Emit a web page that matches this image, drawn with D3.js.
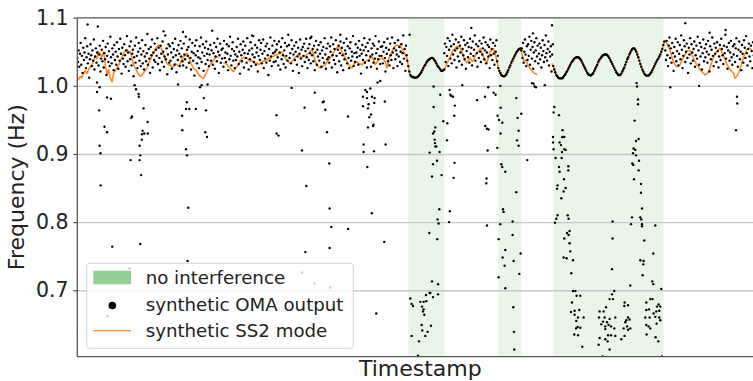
<!DOCTYPE html>
<html><head><meta charset="utf-8">
<script src="https://cdn.jsdelivr.net/npm/d3@7"></script>
<style>body{margin:0;background:#fff}svg{display:block;font-family:"DejaVu Sans",sans-serif}</style>
</head><body><svg id="c" width="753" height="381"></svg>
<script>
// ---------------- DATA ----------------
const yTicks = [0.7, 0.8, 0.9, 1.0, 1.1];
const yTickLabels = ["0.7", "0.8", "0.9", "1.0", "1.1"];
const spans = [[331, 367], [421, 444], [476, 586]]; // "no interference" timestamp ranges
const legendLabels = ["no interference", "synthetic OMA output", "synthetic SS2 mode"];

// synthetic SS2 mode (timestamp, Hz) outside shaded ranges
const modeA = [[0,1.012],[1.3,1.009],[3,1.014],[4.5,1.012],[6.3,1.019],[8,1.022],[9.5,1.018],[11.3,1.024],[13,1.028],[14.7,1.031],[16,1.036],[18,1.043],[19.5,1.040],[21.3,1.050],[23,1.046],[24.7,1.043],[26.3,1.050],[28,1.031],[29.7,1.016],[31.3,1.024],[33,1.011],[34.7,1.006],[36.3,1.019],[38,1.022],[39.7,1.026],[41.5,1.031],[43,1.036],[44.5,1.042],[46.3,1.048],[48,1.051],[49.7,1.053],[51.5,1.049],[53,1.050],[54.5,1.042],[56.3,1.031],[58,1.026],[59.7,1.021],[61.3,1.017],[63,1.014],[64.7,1.016],[66.3,1.019],[68,1.023],[69.7,1.026],[71.3,1.033],[73,1.038],[74.7,1.044],[76.3,1.048],[78,1.054],[79.7,1.058],[81.3,1.060],[83,1.058],[84.7,1.052],[86.3,1.046],[88,1.038],[89.7,1.033],[91.3,1.030],[93,1.031],[94.7,1.027],[96.3,1.028],[98,1.033],[99.7,1.031],[101.3,1.029],[103,1.033],[104.7,1.039],[106.3,1.043],[108,1.045],[109.7,1.048],[111.3,1.042],[113,1.036],[114.7,1.030],[116.3,1.026],[118,1.024],[119.7,1.021],[121.3,1.017],[123,1.014],[124.7,1.012],[126.3,1.011],[128,1.016],[129.7,1.021],[131.3,1.027],[133,1.031],[134.7,1.035],[136.3,1.038],[138,1.041],[139.7,1.043],[141,1.041]];
const modeB = [[146.3,1.033],[148,1.034],[149.7,1.031],[151.3,1.028],[153,1.026],[154.7,1.023],[156.3,1.021],[158,1.025],[159.7,1.028],[161.3,1.032],[163,1.037],[164.7,1.040],[166.3,1.042],[168,1.040],[169.7,1.041],[171.3,1.038],[173,1.036],[174.7,1.037],[176.3,1.035],[178,1.033],[179.7,1.034],[181.3,1.031],[183,1.033],[184.7,1.035],[186.3,1.037],[188,1.036],[189.7,1.038],[191.3,1.041],[193,1.040],[194.7,1.043],[196.3,1.043],[198,1.046],[199.7,1.045],[201.3,1.048],[203,1.047],[204.7,1.050],[206.3,1.045],[208,1.041],[209.7,1.037],[211.3,1.035],[213,1.033],[214.7,1.036],[216.3,1.038],[218,1.042],[219.7,1.044],[221.3,1.046],[223,1.043],[224.7,1.041],[226.3,1.044],[228,1.043],[229.7,1.046],[231.3,1.048],[233,1.051],[234.7,1.053],[236.3,1.046],[238,1.036],[239.7,1.031],[241.3,1.028],[243,1.026],[244.7,1.028],[246.3,1.030],[248,1.031],[249.7,1.035],[251.3,1.038],[253,1.041],[254.7,1.045],[256.3,1.049],[258,1.053],[259.7,1.056],[261.3,1.058],[263,1.055],[264.7,1.050],[266.3,1.046],[268,1.041],[269.7,1.036],[271.3,1.031],[273,1.028],[274.7,1.026],[276.3,1.031],[278,1.036],[279.7,1.035],[281.3,1.033],[283,1.032],[284.7,1.031],[286.3,1.034],[288,1.036],[289.7,1.037],[291.3,1.038],[293,1.041],[294.7,1.043],[296.3,1.037],[298,1.031],[299.7,1.035],[301.3,1.038],[303,1.040],[304.7,1.041],[306.3,1.038],[308,1.036],[309.7,1.026],[311.3,1.038],[313,1.046],[314.7,1.051],[316.3,1.055],[318,1.058],[319.7,1.060],[321.3,1.059],[323,1.058],[324.7,1.055],[326.3,1.050],[328,1.046],[329.7,1.041]];
const modeC = [[368.3,1.028],[369.7,1.033],[371.3,1.038],[373,1.043],[374.7,1.049],[376.3,1.053],[378,1.056],[379.7,1.058],[381.3,1.057],[383,1.056],[384.7,1.049],[386.3,1.043],[388,1.037],[389.7,1.034],[391.3,1.038],[393,1.041],[394.7,1.036],[396.3,1.038],[398,1.044],[399.7,1.048],[401.3,1.052],[403,1.055],[404.7,1.049],[406.3,1.043],[408,1.037],[409.7,1.034],[411.3,1.043],[413,1.050],[414.7,1.053],[416.3,1.055],[418,1.046],[419.7,1.036]];
const modeD = [[445,1.045],[446.3,1.037],[448,1.038],[449.7,1.034],[451.3,1.029],[453,1.025],[454.7,1.022],[456.3,1.019],[458,1.018],[459.7,1.016]];
const modeE0 = [[474.7,1.033]];
const modeE = [[588,1.066],[589.3,1.063],[591,1.058],[592.7,1.052],[594.3,1.044],[596,1.036],[597.7,1.031],[599.3,1.028],[601,1.029],[602.7,1.031],[604.3,1.036],[606,1.041],[607.7,1.046],[609.3,1.050],[611,1.052],[612.7,1.052],[614.3,1.047],[616,1.041],[617.7,1.036],[619.3,1.031],[621,1.028],[622.7,1.024],[624.3,1.021],[626,1.019],[627.7,1.016],[629.3,1.017],[631,1.021],[632.7,1.026],[634.3,1.034],[636,1.041],[637.7,1.046],[639.3,1.050],[641,1.053],[642.7,1.055],[644.3,1.050],[646,1.045],[647.7,1.039],[649.3,1.033],[651,1.028],[652.7,1.024],[654.3,1.021],[656,1.019],[657.7,1.011],[659.3,1.014],[661,1.018],[662.7,1.024],[664.3,1.033],[666,1.041],[667.7,1.047],[669.3,1.053],[671,1.055],[672.7,1.055],[674.3,1.052],[676,1.050],[680,1.045]];

// inside shaded ranges the OMA output lies on the mode: one value per timestamp (Hz)
const span1Start = 331;
const span1F = [1.029,1.021,1.016,1.014,1.013,1.013,1.012,1.012,1.012,1.013,1.014,1.016,1.018,1.020,1.023,1.026,1.029,1.031,1.034,1.036,1.038,1.039,1.040,1.041,1.041,1.040,1.038,1.036,1.033,1.030,1.028,1.026,1.024,1.022,1.022,1.023,1.024];
const span2Start = 421;
const span2F = [1.026,1.022,1.019,1.016,1.015,1.014,1.014,1.015,1.017,1.020,1.023,1.027,1.030,1.034,1.037,1.040,1.043,1.046,1.049,1.051,1.053,1.054,1.055,1.052];
const span3Start = 476;
const span3F = [1.029,1.024,1.020,1.016,1.014,1.012,1.011,1.011,1.011,1.011,1.013,1.015,1.017,1.020,1.022,1.025,1.028,1.031,1.034,1.036,1.038,1.040,1.041,1.042,1.042,1.042,1.041,1.039,1.037,1.034,1.031,1.028,1.025,1.022,1.019,1.017,1.016,1.015,1.016,1.017,1.019,1.022,1.025,1.028,1.031,1.035,1.038,1.040,1.042,1.044,1.045,1.046,1.046,1.046,1.045,1.043,1.041,1.038,1.035,1.032,1.029,1.026,1.023,1.020,1.018,1.016,1.016,1.016,1.018,1.021,1.024,1.027,1.031,1.035,1.039,1.042,1.046,1.049,1.052,1.054,1.055,1.055,1.053,1.050,1.046,1.042,1.037,1.032,1.028,1.024,1.021,1.018,1.016,1.015,1.015,1.015,1.016,1.018,1.020,1.023,1.026,1.029,1.032,1.035,1.038,1.040,1.043,1.046,1.050,1.054,1.060,1.065];

// OMA output band outside shaded ranges (mHz), evenly spaced timestamps between start and end
const bandA = {start: 0, end: 330, mhz: [
1041,1035,1052,1028,1047,1063,1031,1044,1019,1056,1038,1049,1070,1026,1042,1058,1033,1047,1012,1039,
1061,1045,1029,1052,1037,1068,1024,1043,1055,1034,1049,1087,1030,1046,1059,1021,1040,1053,1036,1066,
1027,1048,1039,1057,1016,1044,1062,1035,1051,1029,1072,1042,1033,1055,1046,1023,1060,1038,1050,1031,
1064,1043,1025,1054,1037,1069,1047,1018,1056,1040,1032,1061,1045,1028,1052,1073,1036,1049,1022,1058,
1039,1065,1030,1047,1053,1014,1042,1059,1034,1071,1044,1026,1050,1063,1037,1055,1029,1046,1067,1033,
1051,1024,1043,1060,1036,1048,1076,1031,1054,1040,1019,1057,1045,1068,1027,1049,1038,1062,1035,1053,
1044,1070,1032,1056,1041,1023,1059,1047,1035,1065,1050,1028,1043,1074,1039,1055,1017,1046,1061,1034,
1058,1037,1049,1025,1063,1042,1054,1031,1069,1045,1020,1052,1038,1060,1047,1029,1066,1043,1055,1036,
1030,1062,1046,1039,1072,1027,1053,1044,1057,1034,1068,1041,1024,1050,1063,1037,1048,1015,1059,1045,
1067,1033,1051,1042,1026,1058,1040,1071,1035,1049,1061,1022,1044,1056,1032,1065,1047,1038,1054,1029,
1046,1060,1037,1052,1081,1031,1048,1063,1025,1043,1057,1036,1069,1050,1019,1045,1062,1034,1053,1040,
1055,1028,1066,1041,1049,1035,1061,1047,1023,1058,1039,1072,1044,1030,1054,1064,1037,1051,1026,1046,
1038,1057,1043,1069,1032,1050,1018,1061,1045,1036,1053,1065,1027,1048,1059,1041,1034,1070,1047,1024,
1052,1039,1064,1029,1055,1046,1073,1035,1042,1060,1031,1049,1056,1021,1044,1067,1038,1053,1063,1033,
1047,1068,1026,1051,1040,1058,1034,1062,1045,1016,1054,1037,1071,1043,1029,1059,1048,1035,1066,1050,
1036,1053,1061,1042,1030,1065,1049,1024,1057,1039,1070,1045,1032,1052,1063,1027,1044,1058,1037,1075,
1060,1041,1048,1033,1067,1054,1022,1046,1059,1038,1050,1064,1031,1043,1056,1019,1047,1068,1040,1053,
1029,1057,1044,1062,1035,1051,1069,1042,1026,1055,1038,1061,1048,1033,1072,1045,1054,1036,1059,1023,
1049,1066,1031,1053,1043,1060,1037,1047,1064,1028,1052,1041,1057,1034,1070,1046,1025,1055,1039,1062,
1042,1034,1058,1050,1071,1027,1045,1061,1038,1054,1032,1067,1044,1020,1053,1059,1036,1048,1065,1030,
1056,1045,1023,1063,1039,1052,1047,1069,1033,1058,1041,1026,1055,1064,1037,1050,1043,1073,1029,1048,
1035,1061,1049,1042,1056,1031,1066,1044,1053,1018,1047,1060,1038,1052,1070,1034,1057,1045,1027,1063,
1051,1037,1068,1043,1028,1055,1046,1062,1034,1059,1040,1073,1048,1025,1054,1039,1065,1044,1032,1057,
1044,1058,1033,1050,1064,1041,1021,1056,1047,1069,1036,1053,1030,1062,1045,1038,1071,1049,1026,1055,
1063,1039,1052,1046,1029,1067,1043,1057,1035,1050,1061,1032,1048,1074,1040,1054,1022,1059,1045,1037]};
const bandB = {start: 367, end: 420.5, mhz: [
1048,1062,1035,1057,1044,1070,1029,1053,1066,1040,1058,1033,1075,1046,1061,1038,1052,1068,1027,1055,
1043,1064,1036,1059,1049,1072,1031,1054,1045,1067,1039,1060,1025,1051,1063,1042,1057,1034,1069,1047,
1056,1030,1065,1044,1053,1074,1037,1061,1048,1028,1058,1041,1066,1050,1035,1062,1046,1055,1071,1039,
1052,1064,1033,1049,1060,1043,1057,1026,1068,1045,1054,1038,1063,1047,1031,1059,1050,1067,1036,1044]};
const bandC = {start: 444.5, end: 475.5, mhz: [
1055,1041,1063,1034,1050,1068,1046,1029,1058,1038,1061,1044,1072,1031,1053,1066,1040,1057,1025,1049,
1064,1036,1052,1070,1043,1059,1033,1047,1062,1039,1056,1027,1045,1067,1051,1035,1060,1042,1074,1048,
1037,1054,1065,1030,1050,1043,1058,1021,1046,1061]};
const bandD = {start: 588, end: 684, mhz: [
1052,1038,1066,1045,1029,1059,1071,1041,1055,1034,1063,1048,1022,1057,1043,1069,1036,1051,1064,1030,
1047,1060,1039,1074,1053,1026,1044,1067,1058,1035,1050,1062,1041,1019,1056,1046,1070,1033,1061,1049,
1037,1054,1065,1028,1045,1059,1040,1072,1052,1031,1063,1043,1057,1024,1048,1068,1036,1055,1042,1061,
1050,1034,1066,1046,1021,1058,1039,1053,1071,1044,1029,1062,1047,1056,1035,1064,1051,1027,1043,1060,
1038,1069,1054,1045,1032,1059,1048,1075,1040,1057,1025,1052,1063,1037,1049,1066,1042,1031,1058,1046,
1061,1035,1055,1070,1044,1028,1053,1065,1039,1050,1023,1060,1047,1034,1067,1056,1041,1073,1048,1030,
1054,1062,1043,1036,1059,1051,1026,1064,1045,1038,1057,1069,1033,1049,1060,1042,1053,1040,1066,1031]};

// OMA outputs away from the mode (timestamp, Hz)
const omaOutliers = [
[19.7,1.005],[22.3,0.998],[19.7,0.991],[29.7,0.983],[33.7,0.981],[21.8,0.964],[27.2,0.940],[29.8,0.932],[22.3,0.912],[23.2,0.901],[23.3,0.854],[35,0.764],[30.3,0.662],
[57.3,1.001],[58.7,0.995],[61.3,0.988],[61.5,0.984],[66.2,0.967],[54.7,0.955],[54,0.953],[70.3,0.947],[65.3,0.934],[67,0.930],[64.7,0.929],[70.5,0.930],[64.5,0.921],[62.3,0.912],[63,0.898],[53.3,0.891],[62.3,0.891],[63.8,0.869],[63,0.768],[52.3,0.732],
[100.7,1.002],[109.5,0.976],[108.7,0.966],[112,0.966],[118.5,0.966],[104.8,0.956],[105,0.935],[108.7,0.907],[109.7,0.898],[111,0.821],[110.3,0.743],
[122.7,0.998],[124.3,1.001],[130.3,1.002],[126.5,0.982],[128.7,0.964],[128,0.932],[129.7,0.925],
[199.2,0.957],[199.3,0.930],[201.2,0.927],[214.3,0.997],[227.3,0.968],[224.7,0.905],[229,0.853],[228,0.756],[224.7,0.726],
[237.5,0.990],[245.5,0.976],[246.5,0.977],[248,0.965],[249.7,0.932],[237.3,0.710],[252,0.886],[252.3,0.820],[254,0.793],[252.3,0.762],[253,0.704],
[270.7,0.955],[270.8,0.790],
[285.7,0.970],[288,0.994],[289.7,0.991],[293,0.996],[294.7,0.984],[289.7,0.982],[297.3,0.982],[291.3,0.973],[297,0.975],[290.7,0.967],[293.7,0.958],[292,0.954],[296.3,0.943],[290.7,0.939],[286.3,0.914],[286.3,0.903],[296.7,0.904],[308.3,0.914],[307.5,0.977],[290,0.881],[294.5,0.813],[307,0.771],[299,0.666],[300.3,1.005],[303,1.007],[285.7,0.984],[295.7,0.941],
[356.3,0.999],[363,0.987],[356.3,0.969],[358,0.939],[357,0.933],[357.7,0.916],[358,0.911],[359,0.911],[352.3,0.902],[362.3,0.903],[359.7,0.890],[355.7,0.885],[354.7,0.867],[364.3,0.869],[362,0.819],[360.3,0.804],[361.3,0.798],[352,0.784],[360,0.775],[354.7,0.713],[360.7,0.709],[353,0.696],[348.7,0.693],[352.3,0.696],[333,0.688],[343,0.683],[346.3,0.683],[349,0.684],[334.3,0.680],[335.7,0.677],[344.7,0.676],[346.3,0.672],[345.7,0.669],[347,0.664],[344.3,0.649],[353.7,0.648],[345,0.641],[350.3,0.639],[348,0.633],[334.3,0.633],[341.7,0.625],[340.7,0.604],[355.7,0.690],[360.7,0.694],[355.7,0.930],[357.3,0.921],
[372.3,0.994],[374,0.985],[373,0.987],[375.7,0.984],[377.5,0.971],[377,0.956],[366,0.948],[370,0.945],[369.7,0.920],[377.2,0.887],[376.3,0.865],[372.5,0.816],[371.8,0.800],[385,1.001],[399.8,0.979],[407.7,0.984],[411,0.998],[416.3,0.990],[418.3,0.987],[408,0.941],[409.7,0.937],[411.2,0.936],[410.3,0.905],[409.2,0.864],[409,0.857],[409.7,0.795],[420,0.909],
[423,1.000],[423.3,0.968],[420.3,0.956],[421.7,0.950],[425,0.946],[423.3,0.930],[439,0.982],[444,0.959],[440.3,0.953],[441.3,0.934],[439.7,0.920],[441.3,0.912],[424,0.885],[425,0.881],[428,0.874],[439,0.844],[425.7,0.819],[426.3,0.815],[435.3,0.801],[423,0.797],[435.3,0.781],[421.3,0.775],[428,0.759],[443.3,0.754],[425.3,0.748],[436.3,0.743],[427.3,0.736],[442,0.724],[421.3,0.719],[428,0.703],[436,0.675],[436.7,0.639],[437,0.613],
[450,0.891],[456.3,1.003],[458.7,0.998],[467.5,1.001],[454.7,1.004],[457.3,0.999],
[477,0.969],[476.3,0.961],[481.7,0.957],[485.3,0.935],[475.7,0.925],[485,0.925],[487,0.925],[475.7,0.917],[482.3,0.917],[483.7,0.913],[476.3,0.907],[487,0.907],[488.3,0.906],[484.7,0.903],[478.3,0.894],[484.3,0.894],[481.7,0.881],[491,0.882],[491,0.876],[482.3,0.874],[486.7,0.863],[480.3,0.854],[488.3,0.850],[479.7,0.849],[486.3,0.845],[484,0.835],[480.3,0.810],[490.3,0.810],[479,0.805],[491.3,0.805],[477.7,0.799],[492.3,0.787],[489.7,0.784],[491.3,0.781],[487,0.776],[492.3,0.769],[493,0.757],[486.3,0.748],[489.3,0.747],[495.7,0.744],[494,0.725],[495.7,0.699],[498,0.699],[499.3,0.692],[503,0.692],[494.7,0.682],[493.7,0.668],[497.3,0.670],[502,0.671],[497.3,0.664],[500.7,0.660],[506.3,0.660],[499,0.655],[500.3,0.646],[498.7,0.644],[503,0.645],[497,0.635],[500.7,0.634],[505,0.617],
[535.3,0.801],[535.3,0.776],[534.7,0.731],[537,0.699],[534.7,0.694],[532.3,0.687],[535.7,0.687],[528.7,0.675],[522.3,0.669],[526.3,0.669],[521.7,0.660],[527.3,0.660],[532.3,0.658],[538,0.660],[525.7,0.654],[529.7,0.653],[524,0.650],[531.3,0.649],[528,0.647],[533.7,0.647],[537,0.644],[528,0.643],[530.7,0.634],[533.7,0.634],[522.3,0.630],[528,0.628],[538,0.633],[530.3,0.625],[521.3,0.620],[532.3,0.613],[525.3,0.603],[547.3,0.682],[550.7,0.678],[547,0.677],[550.7,0.660],[549,0.656],[552.3,0.657],[548,0.653],[549.7,0.647],[553,0.644],[546.3,0.644],[550.7,0.642],[547.3,0.633],[544,0.628],[553,0.707],
[559.3,1.004],[559.7,0.999],[560.7,0.980],[560.7,0.973],[557.3,0.949],[558.7,0.919],[561.3,0.922],[556.3,0.908],[558,0.906],[555.7,0.901],[558.7,0.898],[561.7,0.890],[555,0.886],[556,0.884],[561.3,0.876],[556.7,0.863],[563.7,0.856],[563.7,0.843],[564.7,0.820],[554.7,0.807],[563,0.807],[564,0.804],[564.7,0.797],[553.7,0.797],[564.7,0.794],[578,0.795],[567,0.773],[576,0.754],[563,0.744],[566.3,0.743],[566,0.738],[565.3,0.722],[575,0.713],[576,0.709],[584,0.702],[569,0.682],[573,0.687],[575.3,0.687],[581.3,0.679],[579.7,0.676],[583,0.676],[569,0.671],[571.7,0.672],[579,0.669],[582,0.670],[576.3,0.666],[568,0.660],[572.3,0.660],[582,0.660],[578,0.661],[583,0.656],[579.3,0.651],[569,0.649],[571.3,0.647],[573,0.644],[569.3,0.635],[578.3,0.631],[581,0.625],[584.7,0.603],
[593,0.998],[621.8,1.000],[659.7,0.984],[660,0.974],[658.7,0.935],
[10.3,1.090],[86.3,1.080],[105.7,1.079],[174.7,1.074],[233,1.070],[263,1.075],[332.3,1.075],[394,1.085],[455.7,1.077],[474.7,1.089],[608,1.092],[632.3,1.078],[648.3,1.082]
];

// ---------------- CHART ----------------
const svg = d3.select("#c");
const x = d3.scaleLinear().domain([0, 686]).range([77.3, 763.3]);
const y = d3.scaleLinear().domain([0.6025, 1.1]).range([356.7, 17.7]);
const [x0, x1] = x.range(), [yb, yt] = y.range();

svg.append("defs").append("clipPath").attr("id", "clip")
  .append("rect").attr("x", x0).attr("y", yt).attr("width", x1 - x0).attr("height", yb - yt);

// shaded ranges
svg.append("g").selectAll("rect").data(spans).join("rect")
  .attr("x", d => x(d[0])).attr("width", d => x(d[1]) - x(d[0]))
  .attr("y", yt).attr("height", yb - yt)
  .attr("fill", "#2ca02c").attr("fill-opacity", 0.11);

// grid
const grid = svg.append("g").attr("transform", `translate(${x0},0)`)
  .call(d3.axisLeft(y).tickValues(yTicks).tickSize(-(x1 - x0)).tickFormat(""));
grid.select(".domain").remove();
grid.selectAll("line").attr("stroke", "#c8c8c8").attr("stroke-width", 1.3);

const plot = svg.append("g").attr("clip-path", "url(#clip)");

// mode line (under the scatter)
const s1 = span1F.map((v, i) => [span1Start + i, v]);
const s2 = span2F.map((v, i) => [span2Start + i, v]);
const s3 = span3F.map((v, i) => [span3Start + i, v]);
const segments = [modeA, [...modeB, ...s1, ...modeC, ...s2, ...modeD], [...modeE0, ...s3, ...modeE]];
const line = d3.line().x(d => x(d[0])).y(d => y(d[1]));
plot.append("g").selectAll("path").data(segments).join("path")
  .attr("d", line).attr("fill", "none").attr("stroke", "#ff7f0e")
  .attr("stroke-width", 1.5).attr("stroke-opacity", 0.95).attr("stroke-linejoin", "round");

// scatter points
const pts = [];
const bandPts = b => b.mhz.forEach((v, i) => pts.push([b.start + i * (b.end - b.start) / (b.mhz.length - 1), v / 1000]));
[bandA, bandB, bandC, bandD].forEach(bandPts);
s1.forEach(d => pts.push(d));
s2.forEach(d => pts.push(d));
s3.forEach(d => pts.push(d));
omaOutliers.forEach(d => pts.push(d));

plot.append("g").selectAll("circle").data(pts).join("circle")
  .attr("cx", d => x(d[0])).attr("cy", d => y(d[1])).attr("r", 1.2).attr("fill", "#000");

// axes
const ax = svg.append("g").attr("transform", `translate(${x0},0)`)
  .call(d3.axisLeft(y).tickValues(yTicks).tickFormat((d, i) => yTickLabels[i]).tickSize(4).tickPadding(4.8));
ax.select(".domain").remove();
ax.selectAll("line").attr("stroke", "#555").attr("stroke-width", 1.2);
ax.selectAll("text").attr("font-size", "20.5px").attr("fill", "#222").attr("font-family", "DejaVu Sans");

svg.append("line").attr("x1", x0).attr("x2", x1).attr("y1", yt).attr("y2", yt).attr("stroke", "#808080").attr("stroke-width", 1.6);
svg.append("line").attr("x1", x0).attr("x2", x0).attr("y1", yt).attr("y2", yb).attr("stroke", "#555").attr("stroke-width", 1.3);
svg.append("line").attr("x1", x0).attr("x2", x1).attr("y1", yb).attr("y2", yb).attr("stroke", "#555").attr("stroke-width", 1.3);

svg.append("text").attr("x", (x0 + x1) / 2).attr("y", 375.6).attr("text-anchor", "middle")
  .attr("font-size", "22px").attr("fill", "#222").text("Timestamp");
svg.append("text").attr("transform", `translate(24,${(yt + yb) / 2}) rotate(-90)`).attr("text-anchor", "middle")
  .attr("font-size", "22px").attr("fill", "#222").text("Frequency (Hz)");

// legend
const lg = svg.append("g");
lg.append("rect").attr("x", 86.7).attr("y", 263.3).attr("width", 266.6).attr("height", 85).attr("rx", 3)
  .attr("fill", "#fff").attr("fill-opacity", 0.8).attr("stroke", "#d4d4d4").attr("stroke-width", 1);
lg.append("rect").attr("x", 93.3).attr("y", 270.7).attr("width", 37.7).attr("height", 13.6)
  .attr("fill", "#2ca02c").attr("fill-opacity", 0.5);
lg.append("circle").attr("cx", 112.3).attr("cy", 305.5).attr("r", 3.8).attr("fill", "#000");
lg.append("line").attr("x1", 93.3).attr("x2", 131).attr("y1", 330.7).attr("y2", 330.7)
  .attr("stroke", "#ff7f0e").attr("stroke-width", 1.3).attr("stroke-opacity", 0.9);
lg.selectAll("text").data(legendLabels).join("text")
  .attr("x", 145.7).attr("y", (d, i) => 284 + i * 26.6)
  .attr("font-size", "18.2px").attr("fill", "#222").text(d => d);
</script>
</body></html>
